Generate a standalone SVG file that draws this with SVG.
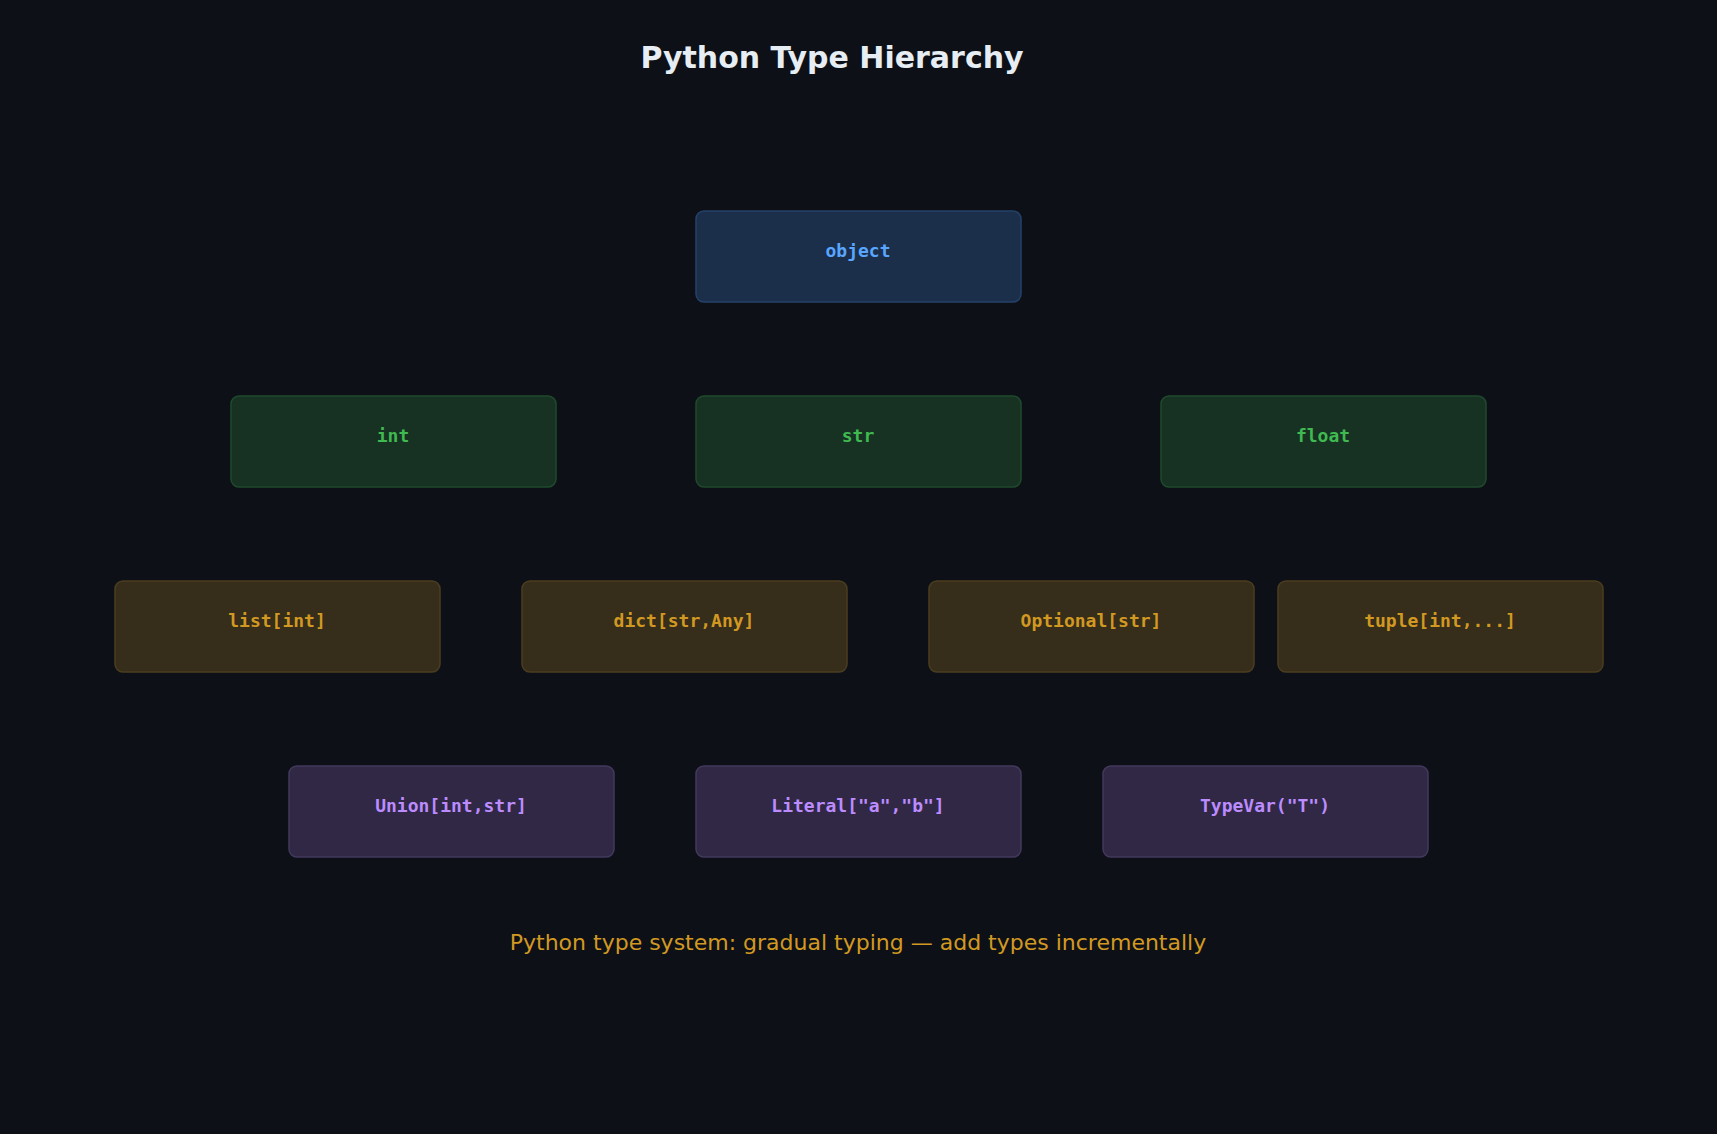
<svg xmlns="http://www.w3.org/2000/svg" width="1717" height="1134" viewBox="0 0 1717 1134">
<style>
.t{font-family:"DejaVu Sans Mono","Liberation Mono",monospace;font-weight:bold;font-size:18px;text-anchor:middle}
.b{stroke-width:1.5}
.o rect{fill:#1c2f4a;stroke:#24416a}.o text{fill:#58a6ff}
.g rect{fill:#173223;stroke:#1f4a2c}.g text{fill:#3fb950}
.y rect{fill:#362d1a;stroke:#4b3d1f}.y text{fill:#d29922}
.p rect{fill:#302845;stroke:#43395e}.p text{fill:#bc8cff}
</style>
<rect width="1717" height="1134" fill="#0d1117"/>
<text x="832" y="68" font-family="DejaVu Sans,sans-serif" font-weight="bold" font-size="30" fill="#e6edf3" text-anchor="middle">Python Type Hierarchy</text>
<g id="connectors"/>
<g id="object" class="o"><rect class="b" x="696" y="211" width="325" height="91" rx="8"/><text class="t" x="858" y="257">object</text></g>
<g id="int" class="g"><rect class="b" x="231" y="396" width="325" height="91" rx="8"/><text class="t" x="393" y="442">int</text></g>
<g id="str" class="g"><rect class="b" x="696" y="396" width="325" height="91" rx="8"/><text class="t" x="858" y="442">str</text></g>
<g id="float" class="g"><rect class="b" x="1161" y="396" width="325" height="91" rx="8"/><text class="t" x="1323" y="442">float</text></g>
<g id="list" class="y"><rect class="b" x="115" y="581" width="325" height="91" rx="8"/><text class="t" x="277" y="627">list[int]</text></g>
<g id="dict" class="y"><rect class="b" x="522" y="581" width="325" height="91" rx="8"/><text class="t" x="684" y="627">dict[str,Any]</text></g>
<g id="optional" class="y"><rect class="b" x="929" y="581" width="325" height="91" rx="8"/><text class="t" x="1091" y="627">Optional[str]</text></g>
<g id="tuple" class="y"><rect class="b" x="1278" y="581" width="325" height="91" rx="8"/><text class="t" x="1440" y="627">tuple[int,...]</text></g>
<g id="union" class="p"><rect class="b" x="289" y="766" width="325" height="91" rx="8"/><text class="t" x="451" y="812">Union[int,str]</text></g>
<g id="literal" class="p"><rect class="b" x="696" y="766" width="325" height="91" rx="8"/><text class="t" x="858" y="812">Literal["a","b"]</text></g>
<g id="typevar" class="p"><rect class="b" x="1103" y="766" width="325" height="91" rx="8"/><text class="t" x="1265" y="812">TypeVar("T")</text></g>
<text x="858" y="950" font-family="DejaVu Sans,sans-serif" font-size="22" fill="#d29922" text-anchor="middle">Python type system: gradual typing — add types incrementally</text>
</svg>
